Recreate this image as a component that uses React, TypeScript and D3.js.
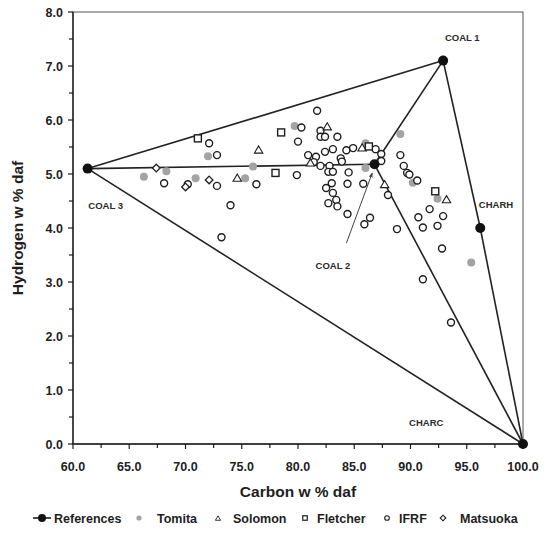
import React from "react";
import * as d3 from "d3";

// Reference (model) points: [C, H]
const refNames = ["COAL 1", "COAL 2", "COAL 3", "CHARH", "CHARC"];
const refC = [92.9, 86.8, 61.3, 96.2, 100.0];
const refH = [7.1, 5.18, 5.1, 4.0, 0.0];
// Segments between reference points (index pairs)
const refLinks: [number, number][] = [
  [2, 0], [0, 3], [3, 4], [2, 4], [0, 1], [2, 1], [1, 4],
];
const labelC = [94.6, 83.1, 62.9, 97.6, 91.4];
const labelH = [7.52, 3.31, 4.41, 4.43, 0.39];

const tomitaC = [66.3, 68.3, 70.9, 72.0, 75.3, 76.0, 79.7, 86.0, 86.0, 89.1, 90.2, 92.4, 95.4];
const tomitaH = [4.95, 5.05, 4.92, 5.33, 4.92, 5.14, 5.89, 5.57, 5.11, 5.74, 4.84, 4.54, 3.36];

const solomonC = [76.5, 74.6, 82.6, 81.1, 85.7, 87.7, 93.2];
const solomonH = [5.44, 4.92, 5.87, 5.2, 5.48, 4.8, 4.52];

const fletcherC = [71.1, 78.5, 78.0, 86.3, 92.2];
const fletcherH = [5.66, 5.77, 5.02, 5.51, 4.68];

const matsuokaC = [67.4, 70.0, 72.1];
const matsuokaH = [5.11, 4.76, 4.89];

const ifrfC = [
  72.1, 72.8, 68.1, 70.2, 72.8, 74.0, 73.2, 76.3, 80.0, 80.3, 81.7, 79.9,
  82.0, 82.0, 82.4, 83.5, 83.1, 82.4, 84.3, 84.9, 86.9, 80.9, 81.6, 83.8,
  83.9, 81.4, 82.0, 82.8, 82.7, 83.1, 84.5, 83.0, 82.5, 83.1, 84.4, 85.8,
  83.4, 82.7, 83.5, 84.4, 86.4, 85.9, 87.4, 87.4, 88.0, 88.8, 89.1, 89.4,
  89.7, 89.9, 90.6, 91.7, 90.7, 92.9, 91.1, 92.4, 92.8, 91.1, 93.6,
];
const ifrfH = [
  5.57, 5.35, 4.83, 4.81, 4.78, 4.42, 3.83, 4.81, 5.6, 5.86, 6.17, 4.98,
  5.8, 5.69, 5.69, 5.69, 5.46, 5.41, 5.44, 5.48, 5.46, 5.35, 5.32, 5.29,
  5.23, 5.22, 5.15, 5.15, 5.04, 5.04, 5.03, 4.83, 4.74, 4.65, 4.82, 4.82,
  4.52, 4.46, 4.4, 4.26, 4.19, 4.07, 5.37, 5.24, 4.61, 3.98, 5.35, 5.15,
  5.02, 4.99, 4.88, 4.35, 4.2, 4.22, 4.01, 4.04, 3.62, 3.05, 2.25,
];

// COAL 2 pointer arrow
const arrowC = [84.3, 86.6];
const arrowH = [3.72, 5.02];

const xMajor = [60, 65, 70, 75, 80, 85, 90, 95, 100];
const yMajor = [0, 1, 2, 3, 4, 5, 6, 7, 8];

const legendItems = ["References", "Tomita", "Solomon", "Fletcher", "IFRF", "Matsuoka"];

const x = d3.scaleLinear().domain([60, 100]).range([73, 523]);
const y = d3.scaleLinear().domain([0, 8]).range([444, 12]);

const INK = "#1e1e1e";
const GRAY = "#a3a3a3";
const FONT = "'Liberation Sans', Arial, sans-serif";

function Tri({ cx, cy, s = 4.2, sw = 1.1 }: { cx: number; cy: number; s?: number; sw?: number }) {
  const h = s * 1.7;
  const p = `M${cx},${cy - h * 0.6} L${cx + s},${cy + h * 0.4} L${cx - s},${cy + h * 0.4} Z`;
  return <path d={p} fill="white" stroke={INK} strokeWidth={sw} />;
}
function Sq({ cx, cy, s = 7, sw = 1.4 }: { cx: number; cy: number; s?: number; sw?: number }) {
  return <rect x={cx - s / 2} y={cy - s / 2} width={s} height={s} fill="white" stroke={INK} strokeWidth={sw} />;
}
function Dia({ cx, cy, s = 3.8, sw = 1.3 }: { cx: number; cy: number; s?: number; sw?: number }) {
  const p = `M${cx},${cy - s} L${cx + s},${cy} L${cx},${cy + s} L${cx - s},${cy} Z`;
  return <path d={p} fill="white" stroke={INK} strokeWidth={sw} />;
}

export default function App() {
  const xMinor = d3.range(62.5, 100, 5);
  const yMinor = d3.range(0.5, 8, 1);
  const legY = 518;
  return (
    <svg width={552} height={539} style={{ position: "absolute", left: 0, top: 0, background: "white" }} fontFamily={FONT}>
      <defs>
        <marker id="ah" viewBox="0 0 10 10" refX="9" refY="5" markerWidth="5" markerHeight="5" orient="auto">
          <path d="M0,1 L10,5 L0,9 z" fill="#444" />
        </marker>
      </defs>
      {/* frame */}
      <rect x={x(60)} y={y(8)} width={x(100) - x(60)} height={y(0) - y(8)} fill="none" stroke="#555" strokeWidth={1} />
      <line x1={x(60)} x2={x(60)} y1={y(8)} y2={y(0)} stroke={INK} strokeWidth={1.4} />
      <line x1={x(60)} x2={x(100)} y1={y(0)} y2={y(0)} stroke={INK} strokeWidth={1.4} />
      {/* ticks */}
      {xMajor.map((v) => (
        <g key={"xm" + v}>
          <line x1={x(v)} x2={x(v)} y1={y(0)} y2={y(0) + 5} stroke={INK} strokeWidth={1.2} />
          <text x={x(v)} y={471} textAnchor="middle" fontSize={12.5} fontWeight="bold" fill={INK}>
            {v.toFixed(1)}
          </text>
        </g>
      ))}
      {xMinor.map((v) => (
        <line key={"xn" + v} x1={x(v)} x2={x(v)} y1={y(0)} y2={y(0) + 4} stroke={INK} strokeWidth={1.2} />
      ))}
      {yMajor.map((v) => (
        <g key={"ym" + v}>
          <line x1={x(60) - 5} x2={x(60)} y1={y(v)} y2={y(v)} stroke={INK} strokeWidth={1.2} />
          <text x={63} y={y(v) + 4.5} textAnchor="end" fontSize={12.5} fontWeight="bold" fill={INK}>
            {v.toFixed(1)}
          </text>
        </g>
      ))}
      {yMinor.map((v) => (
        <line key={"yn" + v} x1={x(60) - 4} x2={x(60)} y1={y(v)} y2={y(v)} stroke={INK} strokeWidth={1.2} />
      ))}
      {/* axis titles */}
      <text x={298} y={497} textAnchor="middle" fontSize={15.5} fontWeight="bold" fill={INK}>
        Carbon w % daf
      </text>
      <text transform={`translate(23,228) rotate(-90)`} textAnchor="middle" fontSize={15.5} fontWeight="bold" fill={INK}>
        Hydrogen w % daf
      </text>

      {/* reference lines */}
      {refLinks.map(([a, b], i) => (
        <line key={"rl" + i} x1={x(refC[a])} y1={y(refH[a])} x2={x(refC[b])} y2={y(refH[b])} stroke="#222" strokeWidth={1.6} />
      ))}

      {/* data */}
      {tomitaC.map((c, i) => (
        <circle key={"t" + i} cx={x(c)} cy={y(tomitaH[i])} r={4} fill={GRAY} />
      ))}
      {ifrfC.map((c, i) => (
        <circle key={"f" + i} cx={x(c)} cy={y(ifrfH[i])} r={3.5} fill="white" stroke={INK} strokeWidth={1.4} />
      ))}
      {matsuokaC.map((c, i) => (
        <Dia key={"m" + i} cx={x(c)} cy={y(matsuokaH[i])} />
      ))}
      {solomonC.map((c, i) => (
        <Tri key={"s" + i} cx={x(c)} cy={y(solomonH[i])} />
      ))}
      {fletcherC.map((c, i) => (
        <Sq key={"q" + i} cx={x(c)} cy={y(fletcherH[i])} />
      ))}

      {/* reference points */}
      {refC.map((c, i) => (
        <circle key={"r" + i} cx={x(c)} cy={y(refH[i])} r={5} fill="#111" />
      ))}
      {refNames.map((n, i) => (
        <text key={"rn" + i} x={x(labelC[i])} y={y(labelH[i]) + 3.5} textAnchor="middle" fontSize={9.5} fontWeight="bold" fill="#2a2a2a">
          {n}
        </text>
      ))}
      <line x1={x(arrowC[0])} y1={y(arrowH[0])} x2={x(arrowC[1])} y2={y(arrowH[1])} stroke="#444" strokeWidth={1} markerEnd="url(#ah)" />

      {/* legend */}
      <g fontSize={12.5} fontWeight="bold" fill={INK}>
        <line x1={33} x2={51} y1={legY} y2={legY} stroke={INK} strokeWidth={1.6} />
        <circle cx={42} cy={legY} r={4} fill="#111" />
        <text x={54} y={legY + 4.5}>{legendItems[0]}</text>
        <circle cx={139} cy={legY} r={2.6} fill={GRAY} />
        <text x={157} y={legY + 4.5}>{legendItems[1]}</text>
        <Tri cx={218} cy={legY + 0.5} s={2.6} sw={0.9} />
        <text x={233} y={legY + 4.5}>{legendItems[2]}</text>
        <Sq cx={305} cy={legY} s={4.5} sw={1.2} />
        <text x={317} y={legY + 4.5}>{legendItems[3]}</text>
        <circle cx={387} cy={legY} r={2.3} fill="white" stroke={INK} strokeWidth={1.1} />
        <text x={399} y={legY + 4.5}>{legendItems[4]}</text>
        <Dia cx={443} cy={legY} s={2.8} sw={1.1} />
        <text x={460} y={legY + 4.5}>{legendItems[5]}</text>
      </g>
    </svg>
  );
}
